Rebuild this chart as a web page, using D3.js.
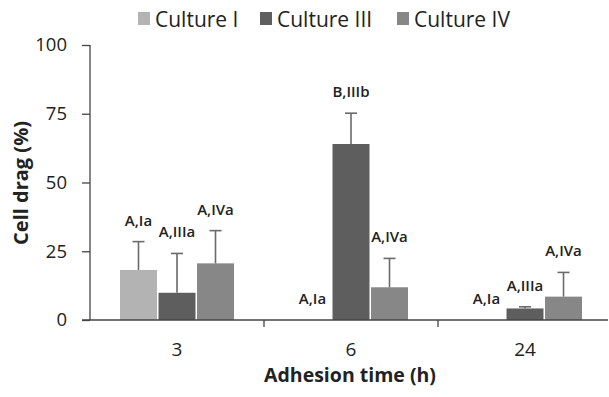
<!DOCTYPE html>
<html><head><meta charset="utf-8">
<script src="https://cdn.jsdelivr.net/npm/d3@7"></script>
<style>body{margin:0;background:#fff}svg{display:block}text{font-family:"Open Sans",sans-serif;fill:#222}</style>
</head><body><svg id="c" width="609" height="397"></svg>
<script>
const categories = ["3", "6", "24"];
const series = ["Culture I", "Culture III", "Culture IV"];
const colors = ["#b3b3b3", "#5e5e5e", "#878787"];
const culture1 = [18.2, 0, 0];
const culture3 = [9.9, 64, 4.2];
const culture4 = [20.6, 11.9, 8.5];
const err1 = [10.3, 0, 0];
const err3 = [14.3, 11.2, 0.6];
const err4 = [11.9, 10.5, 8.8];
const labels1 = ["A,Ia", "A,Ia", "A,Ia"];
const labels3 = ["A,IIIa", "B,IIIb", "A,IIIa"];
const labels4 = ["A,IVa", "A,IVa", "A,IVa"];
const yTicks = [0, 25, 50, 75, 100];

const values = [culture1, culture3, culture4];
const errs = [err1, err3, err4];
const labs = [labels1, labels3, labels4];
const svg = d3.select("#c");
const y = d3.scaleLinear().domain([0, 100]).range([320, 45]);
const x0 = d3.scaleBand().domain(categories).range([90, 612]);
const x1 = d3.scaleBand().domain(series).range([-57, 57]).paddingInner(0.04);

// bars
const data = [];
categories.forEach((c, i) => series.forEach((s, j) => data.push({c, s, j, v: values[j][i], e: errs[j][i], l: labs[j][i]})));
const cx = d => x0(d.c) + x0.bandwidth() / 2 + x1(d.s);
svg.selectAll("rect.bar").data(data).join("rect").attr("class", "bar")
  .attr("x", cx).attr("width", x1.bandwidth())
  .attr("y", d => y(d.v)).attr("height", d => y(0) - y(d.v))
  .attr("fill", d => colors[d.j]);
// error bars
const eb = data.filter(d => d.e > 0);
const mid = d => cx(d) + x1.bandwidth() / 2;
svg.selectAll("line.err").data(eb).join("line").attr("class", "err")
  .attr("x1", mid).attr("x2", mid).attr("y1", d => y(d.v)).attr("y2", d => y(d.v + d.e))
  .attr("stroke", "#6a6a6a").attr("stroke-width", 1.6);
svg.selectAll("line.cap").data(eb).join("line").attr("class", "cap")
  .attr("x1", d => mid(d) - 6).attr("x2", d => mid(d) + 6).attr("y1", d => y(d.v + d.e)).attr("y2", d => y(d.v + d.e))
  .attr("stroke", "#6a6a6a").attr("stroke-width", 1.6);
// labels
svg.selectAll("text.lab").data(data).join("text").attr("class", "lab")
  .attr("x", mid).attr("y", d => y(d.v + d.e) - 16)
  .attr("text-anchor", "middle").attr("font-size", 15).attr("font-weight", 600).text(d => d.l);

// y axis
const ya = svg.append("g").attr("transform", "translate(90,0)")
  .call(d3.axisLeft(y).tickValues(yTicks).tickSize(8).tickPadding(15));
ya.select(".domain").attr("stroke", "#444").attr("stroke-width", 1.3).attr("d", "M0,45H0V320");
ya.selectAll(".tick line").attr("stroke", "#444").attr("stroke-width", 1.3);
ya.selectAll(".tick text").attr("font-size", 18.5).attr("fill", "#222").style("font-family", '"Open Sans",sans-serif');

// x axis
svg.append("line").attr("x1", 82).attr("x2", 608).attr("y1", 320).attr("y2", 320).attr("stroke", "#444").attr("stroke-width", 1.3);
const bounds = categories.slice(1).map(c => x0(c));
svg.selectAll("line.xt").data(bounds).join("line").attr("class", "xt")
  .attr("x1", d => d).attr("x2", d => d).attr("y1", 320).attr("y2", 327).attr("stroke", "#444").attr("stroke-width", 1.3);
svg.selectAll("text.xl").data(categories).join("text").attr("class", "xl")
  .attr("x", d => x0(d) + x0.bandwidth() / 2).attr("y", 356).attr("text-anchor", "middle").attr("font-size", 19).text(d => d);

// titles
svg.append("text").attr("x", 350).attr("y", 382).attr("text-anchor", "middle").attr("font-size", 19.5).attr("font-weight", "bold").text("Adhesion time (h)");
svg.append("text").attr("transform", "translate(28,183) rotate(-90)").attr("text-anchor", "middle").attr("font-size", 20).attr("font-weight", "bold").text("Cell drag (%)");

// legend
const legX = [138, 260, 397];
const lg = svg.selectAll("g.leg").data(series).join("g").attr("class", "leg").attr("transform", (d, i) => `translate(${legX[i]},12)`);
lg.append("rect").attr("width", 12).attr("height", 13).attr("fill", (d, i) => colors[i]);
lg.append("text").attr("x", 17).attr("y", 14.5).attr("font-size", 21).text(d => d);
</script></body></html>
